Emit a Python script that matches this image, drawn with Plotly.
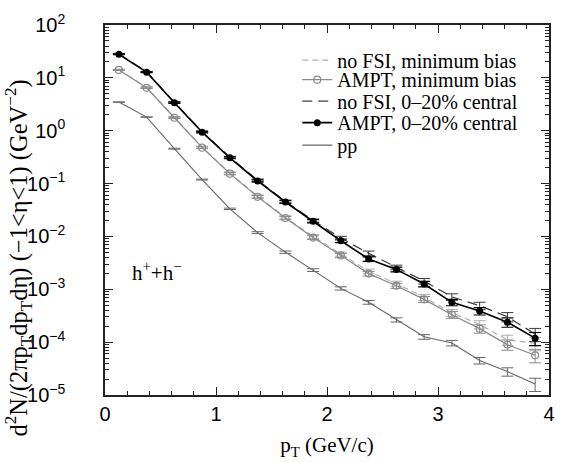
import plotly.graph_objects as go

pt = [0.125, 0.375, 0.625, 0.875, 1.125, 1.375, 1.625, 1.875,
      2.125, 2.375, 2.625, 2.875, 3.125, 3.375, 3.625, 3.875]

ampt_central = [27.9, 12.8, 3.37, 0.94, 0.307, 0.112, 0.0448, 0.0194,
                0.00828, 0.00374, 0.00238, 0.00126, 0.000567, 0.000388, 0.000239, 0.000119]
nofsi_central = [28.5, 13.0, 3.45, 0.96, 0.315, 0.116, 0.046, 0.0200,
                 0.0093, 0.0048, 0.0026, 0.00143, 0.00072, 0.00049, 0.000302, 0.000142]
ampt_minbias = [14.1, 6.48, 1.76, 0.478, 0.154, 0.0561, 0.0223, 0.00953,
                0.00437, 0.00198, 0.00117, 0.000645, 0.000331, 0.000180, 0.0000899, 0.0000564]
nofsi_minbias = [14.3, 6.6, 1.80, 0.49, 0.158, 0.0575, 0.0230, 0.0100,
                 0.00465, 0.00219, 0.00128, 0.000703, 0.00036, 0.000216, 0.000111, 0.000095]
pp = [3.48, 1.81, 0.457, 0.119, 0.0333, 0.0118, 0.00504, 0.00231,
      0.00104, 0.000567, 0.000264, 0.000126, 0.0000964, 0.0000449, 0.0000277, 0.0000162]

rel_err_central = [0.02, 0.02, 0.03, 0.03, 0.04, 0.05, 0.06, 0.07,
                   0.08, 0.10, 0.10, 0.12, 0.14, 0.16, 0.20, 0.28]
rel_err_minbias = [0.02, 0.03, 0.03, 0.04, 0.05, 0.06, 0.07, 0.08,
                   0.09, 0.10, 0.11, 0.13, 0.15, 0.18, 0.22, 0.28]
rel_err_pp = [0.01, 0.01, 0.02, 0.02, 0.03, 0.04, 0.05, 0.06,
              0.07, 0.08, 0.09, 0.10, 0.12, 0.14, 0.18, 0.28]

y_tick_vals = [1e-5, 1e-4, 1e-3, 1e-2, 1e-1, 1e0, 1e1, 1e2]
y_tick_text = ["10<sup>−5</sup>", "10<sup>−4</sup>", "10<sup>−3</sup>", "10<sup>−2</sup>",
               "10<sup>−1</sup>", "10<sup>0</sup>", "10<sup>1</sup>", "10<sup>2</sup>"]
x_tick_vals = [0, 1, 2, 3, 4]
x_tick_text = ["0", "1", "2", "3", "4"]

y_title = "d<sup>2</sup>N/(2πp<sub>T</sub>dp<sub>T</sub>dη) (−1<η<1) (GeV<sup>−2</sup>)"
x_title = "p<sub>T</sub> (GeV/c)"
label_text = "h<sup>+</sup>+h<sup>−</sup>"


def errs(vals, rel):
    return [v * r for v, r in zip(vals, rel)]


SERIF = "Liberation Serif, Times New Roman, serif"
SANS = "Liberation Sans, Arial, sans-serif"

fig = go.Figure()

fig.add_trace(go.Scatter(
    x=pt, y=nofsi_minbias, mode="lines", name="no FSI, minimum bias", legend="legend",
    line=dict(color="#b0b0b0", width=1.2, dash="6px,4px"),
    error_y=dict(type="data", array=errs(nofsi_minbias, rel_err_minbias),
                 color="#b0b0b0", thickness=1, width=6)))

fig.add_trace(go.Scatter(
    x=pt, y=ampt_minbias, mode="lines+markers", name="AMPT, minimum bias", legend="legend2",
    line=dict(color="#8a8a8a", width=1.2),
    marker=dict(symbol="circle-open", size=7, color="#8a8a8a", line=dict(width=1.2)),
    error_y=dict(type="data", array=errs(ampt_minbias, rel_err_minbias),
                 color="#8a8a8a", thickness=1, width=6)))

fig.add_trace(go.Scatter(
    x=pt, y=nofsi_central, mode="lines", name="no FSI, 0–20% central", legend="legend3",
    line=dict(color="#3a3a3a", width=1.2, dash="10px,6px"),
    error_y=dict(type="data", array=errs(nofsi_central, rel_err_central),
                 color="#3a3a3a", thickness=1, width=6)))

fig.add_trace(go.Scatter(
    x=pt, y=ampt_central, mode="lines+markers", name="AMPT, 0–20% central", legend="legend4",
    line=dict(color="#000000", width=1.6),
    marker=dict(symbol="circle", size=7, color="#000000"),
    error_y=dict(type="data", array=errs(ampt_central, rel_err_central),
                 color="#000000", thickness=1.2, width=6)))

fig.add_trace(go.Scatter(
    x=pt, y=pp, mode="lines", name="pp", legend="legend5",
    line=dict(color="#666666", width=1.1),
    error_y=dict(type="data", array=errs(pp, rel_err_pp),
                 color="#666666", thickness=1, width=6)))

fig.add_annotation(
    x=0.46, y=-2.67, xref="x", yref="y",
    text=label_text, showarrow=False,
    font=dict(family=SERIF, size=21, color="black"))

fig.add_annotation(
    x=-0.195, y=0.37, xref="paper", yref="paper",
    text=y_title, textangle=-90, showarrow=False,
    xanchor="center", yanchor="middle",
    font=dict(family=SERIF, size=24.5, color="black"))


def leg(ypix):
    return dict(x=0.433, y=(404 - ypix) / 379, xanchor="left", yanchor="middle",
                bgcolor="rgba(0,0,0,0)", borderwidth=0,
                font=dict(family=SERIF, size=20, color="black"),
                itemwidth=30)


fig.update_layout(
    width=564, height=462,
    margin=dict(l=105, r=9, t=25, b=58),
    paper_bgcolor="white", plot_bgcolor="white",
    showlegend=True,
    legend=leg(61),
    legend2=leg(81),
    legend3=leg(103),
    legend4=leg(125),
    legend5=leg(148),
    xaxis=dict(
        range=[0, 4], tickmode="array", tickvals=x_tick_vals, ticktext=x_tick_text,
        ticks="inside", ticklen=8, tickwidth=1.2, tickcolor="#222",
        minor=dict(ticks="inside", ticklen=4, dtick=0.2, tick0=0, tickcolor="#222", showgrid=False),
        showline=True, linecolor="#222", linewidth=1.5, mirror="ticks",
        showgrid=False, zeroline=False,
        tickfont=dict(family=SANS, size=20, color="black"),
        title=dict(text=x_title, standoff=14,
                   font=dict(family=SERIF, size=21, color="black"))),
    yaxis=dict(
        type="log", range=[-5, 2],
        tickmode="array", tickvals=y_tick_vals, ticktext=y_tick_text,
        ticks="inside", ticklen=8, tickwidth=1.2, tickcolor="#222",
        minor=dict(ticks="inside", ticklen=4, dtick="D1", tickcolor="#222", showgrid=False),
        showline=True, linecolor="#222", linewidth=1.5, mirror="ticks",
        showgrid=False, zeroline=False,
        ticklabelstandoff=34,
        tickfont=dict(family=SANS, size=20, color="black")),
)

fig.write_html("out.html")
